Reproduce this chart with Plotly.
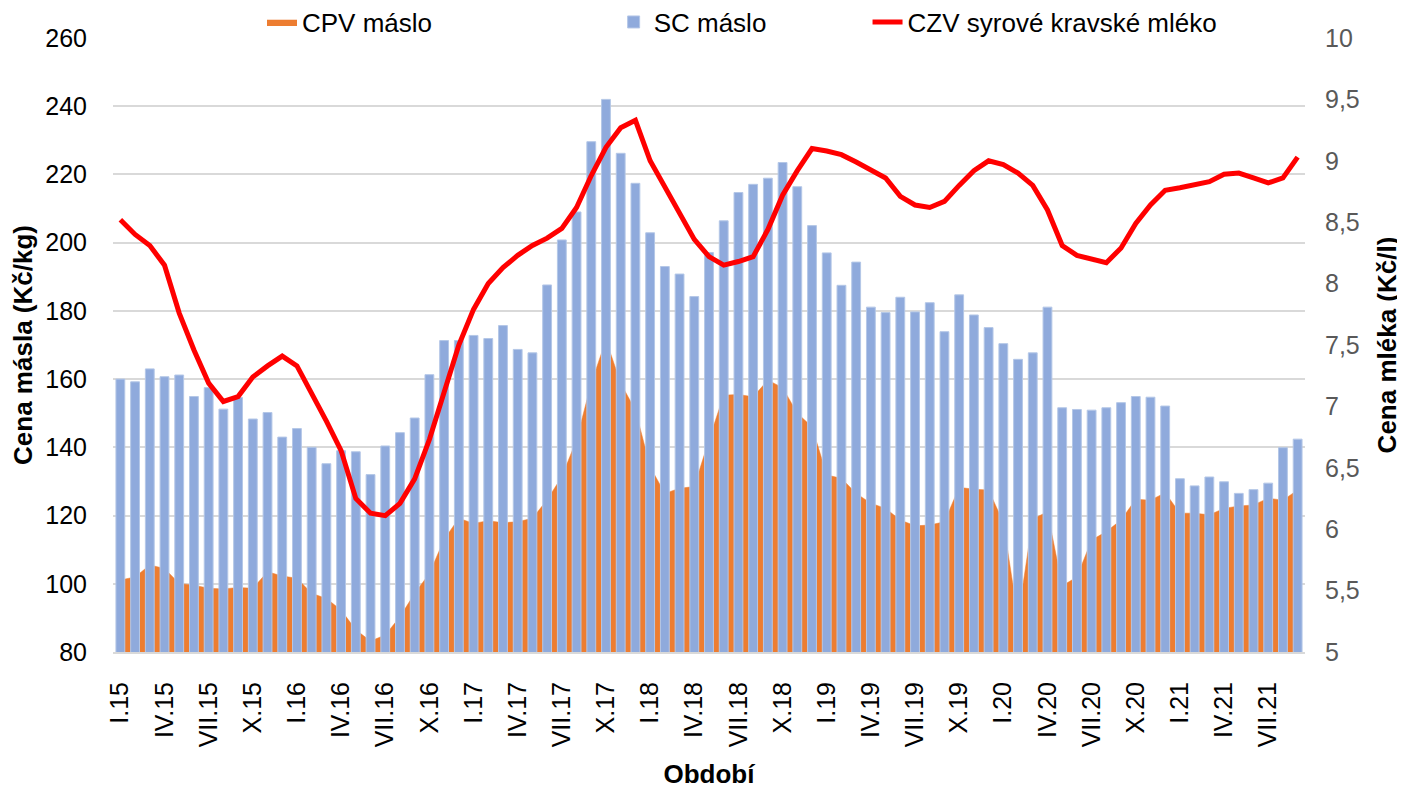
import plotly.graph_objects as go

# months I.15 .. IX.21
roman = ["I", "II", "III", "IV", "V", "VI", "VII", "VIII", "IX", "X", "XI", "XII"]
periods = [f"{roman[m]}.{y}" for y in range(15, 22) for m in range(12)][:81]

sc_maslo = [160, 159.2, 163, 160.7, 161.2, 154.9, 157.5, 151.2, 154.6, 148.3,
            150.2, 143, 145.5, 140, 135.2, 139, 138.7, 132, 140.4, 144.3,
            148.6, 161.3, 171.3, 171.3, 172.8, 171.9, 175.7, 168.7, 167.7, 187.6,
            200.8, 209, 229.6, 242, 226.2, 217.4, 202.9, 193, 190.8, 184.2,
            197.1, 206.4, 214.7, 217.1, 218.9, 223.5, 216.4, 205, 197, 187.5,
            194.3, 181.1, 179.5, 184, 179.7, 182.4, 173.9, 184.7, 178.8, 175.1,
            170.4, 165.8, 167.7, 181.1, 151.6, 151.1, 150.9, 151.6, 153.1, 154.9,
            154.7, 152.1, 130.8, 128.7, 131.3, 129.9, 126.5, 127.6, 129.5, 139.9,
            142.4]

cpv_maslo = [101.1, 102, 105.5, 104.5, 100.1, 99.6, 98.7, 98.5, 98.9, 98.7,
             103.5, 102.3, 101.6, 97.2, 95.7, 92.3, 86.5, 83.2, 85, 90.3,
             97.2, 103, 113, 119.2, 117.7, 118.5, 117.9, 118.2, 119.2, 124.6,
             131.4, 142.2, 158.8, 171.5, 158.8, 150.9, 134.3, 126.5, 128, 128.5,
             142.2, 155.3, 155.5, 154.8, 159.7, 157.5, 150, 146, 131.9, 130.9,
             126.5, 123.6, 122.1, 118.7, 117, 117.2, 118.2, 128.3, 127.7, 127.5,
             118, 90, 119, 121.1, 99.4, 102, 112.8, 115.3, 118.7, 124.8,
             124.5, 126.7, 120.7, 120.7, 120.2, 122.1, 122.8, 123.1, 125.1, 124.5,
             127.5]

czv_mleko = [8.52, 8.40, 8.31, 8.15, 7.76, 7.46, 7.19, 7.04, 7.08, 7.24,
             7.33, 7.41, 7.33, 7.11, 6.88, 6.64, 6.25, 6.13, 6.11, 6.21,
             6.41, 6.73, 7.11, 7.50, 7.79, 8.00, 8.13, 8.23, 8.31, 8.37,
             8.45, 8.62, 8.88, 9.11, 9.27, 9.33, 9.00, 8.78, 8.56, 8.36,
             8.22, 8.15, 8.18, 8.22, 8.44, 8.72, 8.92, 9.10, 9.08, 9.05,
             8.99, 8.92, 8.86, 8.71, 8.64, 8.62, 8.67, 8.80, 8.92, 9.00,
             8.97, 8.90, 8.80, 8.60, 8.31, 8.23, 8.20, 8.17, 8.29, 8.49,
             8.64, 8.76, 8.78, 8.80, 8.83, 8.89, 8.90, 8.86, 8.82, 8.86,
             9.03]

x = list(range(len(periods)))
font = "Liberation Sans, Arial, sans-serif"

fig = go.Figure()
# area on the main axis so that the bars (overlay axis) sit on top of it
fig.add_trace(go.Scatter(x=x, y=cpv_maslo, name="CPV máslo", mode="lines",
                         fill="tozeroy", fillcolor="#ED7D31", line=dict(color="#ED7D31", width=0.5),
                         yaxis="y", legend="legend", showlegend=True))
fig.add_trace(go.Bar(x=x, y=sc_maslo, name="SC máslo", width=0.6,
                     marker=dict(color="#8FAADC", line=dict(color="#B4C7E7", width=1)),
                     yaxis="y2", legend="legend2", showlegend=True))
fig.add_trace(go.Scatter(x=x, y=czv_mleko, name="CZV syrové kravské mléko", mode="lines",
                         line=dict(color="#FF0000", width=5), yaxis="y3", legend="legend3",
                         showlegend=True))

tick_idx = x[::3]
leg = dict(orientation="h", yref="container", yanchor="middle", y=0.982, xanchor="left",
           font=dict(size=26, color="black", family=font), bgcolor="rgba(0,0,0,0)")

# page body adds an 8px offset, so the figure is 8px smaller than the window
fig.update_layout(
    width=1397, height=781,
    margin=dict(l=105, r=100, t=30, b=137, autoexpand=False),
    paper_bgcolor="white", plot_bgcolor="white",
    font=dict(family=font, color="black"),
    separators=", ",
    showlegend=True,
    xaxis=dict(range=[-0.5, len(x) - 0.5], tickvals=tick_idx,
               ticktext=[periods[i] for i in tick_idx], tickangle=-90,
               tickfont=dict(size=25, color="black"), ticks="outside", ticklen=18,
               tickcolor="rgba(0,0,0,0)", showgrid=False, zeroline=False,
               showline=True, linecolor="#D9D9D9", linewidth=2,
               title=dict(text="<b>Období</b>", font=dict(size=26), standoff=20),
               automargin=False),
    yaxis=dict(range=[80, 260], dtick=20, showgrid=True, gridcolor="#D9D9D9", gridwidth=1.5,
               zeroline=False, tickfont=dict(size=25, color="black"), ticks="outside",
               ticklen=20, tickcolor="rgba(0,0,0,0)",
               title=dict(text="<b>Cena másla (Kč/kg)</b>", font=dict(size=26), standoff=10),
               automargin=False),
    yaxis2=dict(range=[80, 260], overlaying="y", visible=False),
    yaxis3=dict(range=[5, 10], dtick=0.5, overlaying="y", side="right", showgrid=False,
                zeroline=False, tickfont=dict(size=25, color="#595959"), ticks="outside",
                ticklen=14, tickcolor="rgba(0,0,0,0)",
                title=dict(text="<b>Cena mléka (Kč/l)</b>", font=dict(size=26), standoff=19),
                automargin=False),
    legend=dict(leg, x=0.125),
    legend2=dict(leg, x=0.420),
    legend3=dict(leg, x=0.633),
)

fig.write_html("out.html")
